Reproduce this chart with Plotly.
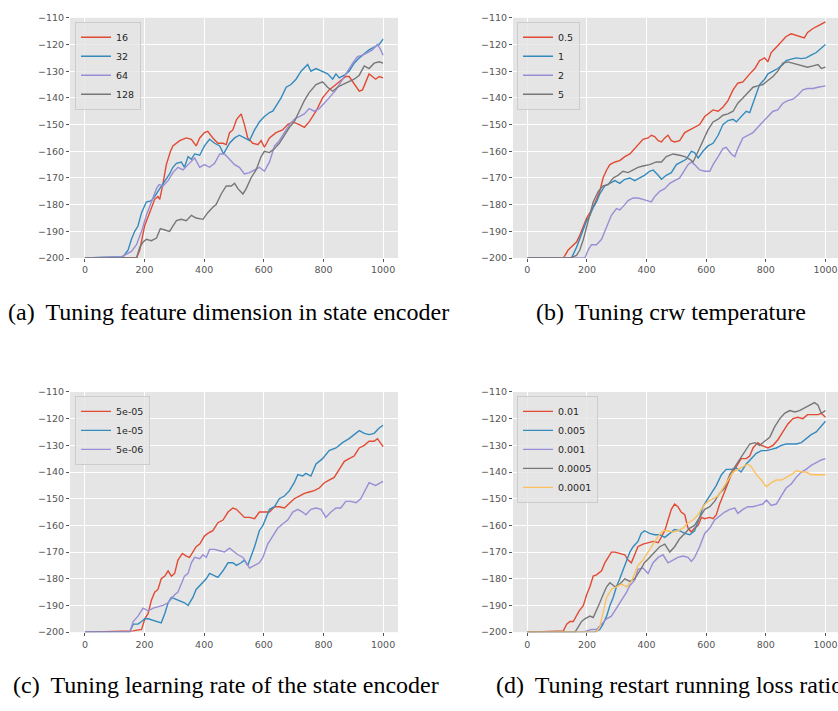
import plotly.graph_objects as go

# ---------------- data ----------------
# (a) feature dimension
a16_x = [0, 173, 184, 200, 217, 234, 245, 251, 262, 273, 287, 295, 318, 340, 357, 373, 385, 401, 412, 429, 446, 463, 474, 485, 496, 509, 524, 535, 546, 563, 580, 591, 602, 619, 641, 663, 680, 697, 719, 736, 752, 775, 797, 819, 842, 864, 875, 886, 903, 920, 931, 942, 953, 964, 975, 987, 1000]
a16_y = [-200, -200, -197, -188, -183, -178, -177, -178, -172, -165, -160, -158, -156, -155, -155.5, -158, -155, -153, -152.5, -155, -157, -157, -157.5, -153, -152, -148, -146, -150, -155, -157, -157.5, -156, -158.5, -155, -153, -152, -150, -149, -150, -151, -149, -145, -140, -137, -135, -133, -132, -132, -135, -137.5, -137, -134, -131, -132, -133, -132, -132.5]
a32_x = [0, 85, 128, 145, 156, 167, 178, 190, 206, 223, 234, 245, 262, 273, 284, 295, 307, 323, 334, 346, 357, 368, 385, 401, 418, 435, 452, 465, 485, 502, 518, 535, 552, 569, 585, 602, 619, 630, 641, 658, 675, 691, 708, 725, 747, 758, 775, 792, 814, 831, 842, 853, 870, 886, 903, 920, 937, 953, 970, 987, 1000]
a32_y = [-200, -199.7, -199.5, -197, -193, -190, -188, -183, -179, -178.5, -177, -175, -172, -170, -168.5, -166, -164.5, -164, -166, -162, -163, -161, -161.5, -158, -155.5, -157, -158, -161, -157, -155, -154, -155, -156, -152, -149, -147, -145.5, -145, -143, -140, -136, -135, -133, -130, -127.5, -130, -129, -130, -131, -133, -131, -132.5, -131.5, -130, -127, -125, -123.5, -122, -121, -120, -118]
a64_x = [0, 123, 156, 173, 190, 206, 223, 240, 249, 262, 279, 295, 312, 329, 346, 368, 385, 401, 418, 435, 452, 468, 485, 502, 518, 535, 552, 569, 585, 602, 619, 636, 652, 669, 686, 702, 719, 736, 752, 769, 786, 803, 819, 842, 864, 881, 898, 914, 931, 948, 964, 981, 992, 1000]
a64_y = [-200, -199.5, -197.5, -195, -190, -184, -179, -174, -172.5, -173, -171, -168, -166, -167, -165, -162.5, -166, -165, -166, -164.5, -161, -161, -163, -165, -166, -168.5, -168, -167, -166, -167.5, -164, -158, -156, -153, -150, -148, -147, -146, -144, -145, -144, -142, -140, -137, -133, -130, -127, -124.5, -124, -123, -122, -120, -122, -124]
a128_x = [0, 173, 184, 195, 206, 223, 240, 253, 268, 284, 295, 307, 323, 340, 357, 373, 396, 412, 429, 440, 457, 474, 491, 502, 513, 530, 541, 557, 574, 591, 602, 619, 636, 652, 669, 686, 702, 719, 736, 752, 775, 797, 814, 831, 847, 864, 886, 903, 920, 937, 953, 970, 987, 1000]
a128_y = [-200, -200, -196, -194, -193, -193.5, -192.5, -189, -189.5, -190, -188, -186, -185.5, -186, -184, -185, -185.5, -183, -181, -180, -176, -173, -173, -172, -174, -176, -174, -170, -167, -162, -160, -160.5, -159, -157, -154, -151, -149, -145, -141, -138, -135, -134, -136, -137.5, -136, -135, -134, -133, -131.5, -128, -129, -127, -126.5, -127]

# (b) crw temperature
b05_x = [0, 121, 137, 154, 165, 174, 188, 199, 210, 221, 232, 243, 254, 266, 277, 294, 310, 327, 344, 360, 377, 388, 405, 416, 427, 439, 450, 461, 472, 483, 494, 511, 528, 545, 561, 578, 595, 612, 623, 640, 656, 673, 690, 706, 723, 746, 763, 779, 796, 807, 818, 835, 852, 868, 885, 902, 913, 929, 940, 958, 975, 1000]
b05_y = [-200, -200, -197, -195, -194, -192, -188, -185, -183, -181, -178, -175, -170, -167, -165, -164, -163.5, -162, -161, -159, -157, -155.5, -155, -154, -154.5, -156, -156.5, -155, -154, -156, -156.5, -156, -153, -152, -151, -150, -147, -145.5, -144.5, -145, -143.5, -141, -137, -134.5, -134, -131, -129, -126, -125, -126.5, -123, -121, -119, -117, -116, -116.5, -117, -117.5, -115.5, -114, -113, -111.5]
b1_x = [0, 148, 165, 176, 188, 199, 210, 221, 232, 243, 260, 277, 294, 310, 327, 344, 360, 377, 393, 410, 422, 439, 450, 466, 483, 500, 516, 533, 550, 561, 573, 589, 606, 623, 640, 656, 673, 690, 701, 717, 734, 746, 763, 779, 796, 807, 824, 840, 857, 868, 885, 902, 919, 935, 952, 969, 1000]
b1_y = [-200, -200, -196, -193, -189, -186, -184, -181, -179, -176, -173, -172, -171, -172, -170.5, -170, -171, -170, -169, -167.5, -167, -169, -170.5, -169, -168, -165, -164, -163, -160, -160.5, -162.5, -160, -158, -157, -154, -150, -148.5, -148, -149, -147, -145, -145.5, -140, -135, -133, -131, -130, -129, -127.5, -126, -125.5, -125, -125.3, -125, -124, -123, -120]
b2_x = [0, 193, 204, 215, 232, 249, 260, 271, 282, 299, 310, 327, 338, 355, 371, 388, 405, 416, 427, 444, 461, 478, 494, 511, 528, 539, 550, 561, 578, 595, 612, 623, 640, 656, 667, 684, 696, 706, 723, 740, 757, 773, 790, 807, 824, 840, 857, 874, 891, 907, 924, 940, 958, 975, 1000]
b2_y = [-200, -200, -197, -195, -195, -193, -190, -187, -184, -181.5, -182, -180, -178.5, -177.5, -177.5, -178, -178.5, -179, -177, -175, -174, -172, -171, -170, -167, -165, -164, -165, -167, -167.5, -167.5, -165, -162, -159, -158.5, -161, -162, -159, -155, -154, -153, -151, -149, -147, -145, -144.5, -142, -141, -140.5, -139, -137, -136.5, -136.5, -136, -135.5]
b5_x = [0, 143, 165, 176, 188, 199, 210, 221, 238, 254, 271, 288, 304, 321, 338, 355, 371, 388, 410, 433, 450, 466, 489, 511, 528, 545, 556, 573, 589, 606, 623, 640, 656, 673, 690, 706, 723, 740, 757, 773, 790, 807, 824, 840, 857, 874, 891, 907, 924, 940, 958, 975, 986, 1000]
b5_y = [-200, -200, -199, -197, -193, -188, -183, -179, -175, -173, -172.5, -170, -169, -167.5, -168, -167, -166, -165.5, -165, -164, -164, -162, -161, -161.5, -162, -163, -164, -160, -156, -152, -149, -148, -146.5, -146, -145, -142, -140, -138, -136, -135.5, -135, -133.5, -132, -130, -127, -126.5, -127, -127.5, -128, -128.5, -128, -127.5, -129, -128.5]

# (c) learning rate
c5e5_x = [0, 162, 190, 201, 212, 223, 234, 245, 256, 268, 279, 290, 301, 312, 327, 340, 351, 362, 373, 385, 401, 412, 429, 446, 463, 480, 496, 508, 518, 535, 552, 569, 585, 602, 619, 636, 652, 669, 686, 702, 719, 736, 752, 769, 786, 803, 819, 836, 853, 870, 886, 903, 920, 937, 953, 970, 981, 992, 1000]
c5e5_y = [-200, -199.5, -199, -195, -193, -188, -185, -184, -180, -179, -177, -179, -178, -173, -170.5, -171.5, -172, -170, -168, -167, -164, -163, -162, -159, -158, -155, -153.5, -154, -155, -157, -157, -157.5, -155, -155, -155, -153, -153, -153.5, -151.5, -150, -149, -148, -147.5, -147, -146, -144, -143, -142, -139, -136, -135, -134, -131, -130, -128.5, -128.5, -127.5, -129, -130.5]
c1e5_x = [0, 150, 162, 178, 190, 201, 212, 229, 245, 256, 268, 279, 290, 301, 318, 334, 346, 362, 373, 390, 407, 418, 435, 446, 463, 480, 496, 508, 524, 535, 546, 557, 569, 585, 597, 608, 619, 636, 652, 669, 686, 702, 714, 730, 741, 758, 775, 797, 819, 842, 864, 886, 903, 920, 937, 953, 970, 987, 1000]
c1e5_y = [-200, -200, -197, -197, -196, -195, -195, -195.5, -196, -196.5, -193, -189, -187, -187.5, -188, -189, -190, -187, -184, -182, -180, -178, -179, -179.5, -177, -174, -174, -175, -174, -173, -175, -172, -168, -162, -160, -157, -154, -153, -150, -149, -147, -144, -141, -141.5, -140.5, -141.5, -137, -135, -132, -131, -129, -127.5, -126, -124.5, -125.5, -126, -125.5, -123.5, -122.5]
c5e6_x = [0, 150, 162, 178, 195, 212, 229, 245, 262, 279, 290, 301, 312, 323, 334, 346, 357, 368, 385, 396, 407, 418, 435, 452, 468, 485, 496, 513, 530, 541, 552, 569, 585, 597, 613, 630, 647, 663, 680, 697, 714, 730, 741, 758, 775, 792, 808, 825, 842, 858, 875, 892, 909, 925, 942, 953, 964, 975, 992, 1000]
c5e6_y = [-200, -200, -196, -194, -191, -192, -191, -190.5, -190, -189, -187.5, -186, -185, -182, -179, -178, -174, -172, -172.5, -171, -172, -169, -169, -169.5, -170, -168.5, -169.5, -171, -172, -174, -176, -175, -174, -172, -167, -164, -161, -159.5, -158, -155, -154, -155, -156, -154, -153.5, -154, -157, -155, -153.5, -153.5, -151, -151, -151.5, -150, -146, -144, -144.5, -145, -144, -143.5]

# (d) restart running loss ratio
d01_x = [0, 121, 132, 143, 154, 165, 174, 188, 199, 210, 221, 232, 249, 260, 271, 282, 294, 310, 327, 338, 349, 360, 371, 388, 405, 422, 439, 450, 461, 472, 483, 494, 505, 516, 528, 539, 550, 561, 573, 584, 595, 612, 623, 634, 645, 656, 667, 684, 701, 717, 734, 746, 757, 773, 785, 796, 807, 824, 840, 857, 874, 891, 907, 924, 940, 958, 975, 986, 1000]
d01_y = [-200, -199.5, -197, -196, -196, -194, -192, -190, -186, -183, -179, -178.5, -177, -174, -172, -170, -170, -170.5, -171, -173, -174, -171, -168, -167, -166.5, -166, -166.5, -164, -162, -158, -154, -152, -153, -155, -156, -161, -162.5, -161, -160, -157, -157.5, -157, -157.5, -156, -152, -149, -146, -141, -138, -135, -135, -134, -131, -129, -130, -130.5, -131, -130, -128, -125, -122, -120, -119.5, -120, -118.5, -118.5, -118.5, -118, -119.5]
d005_x = [0, 227, 243, 254, 266, 277, 288, 299, 310, 321, 333, 344, 355, 371, 382, 393, 410, 427, 444, 461, 478, 494, 511, 528, 545, 561, 578, 589, 600, 617, 634, 651, 667, 684, 701, 717, 734, 751, 768, 785, 802, 818, 835, 852, 868, 885, 902, 919, 935, 952, 969, 986, 1000]
d005_y = [-200, -200, -199, -197, -194, -190, -187, -183, -180, -177, -173, -170, -168, -166, -163, -162, -163, -163.5, -163.5, -164.5, -163, -161.5, -162, -163, -163.5, -162, -157, -153, -151, -148, -145, -141, -139, -139, -138.5, -140, -137, -135, -133, -132, -132, -131.5, -131, -130, -129.5, -129.5, -129.5, -129, -127.5, -126, -125, -123, -121]
d001_x = [0, 188, 199, 215, 232, 249, 266, 282, 299, 310, 321, 333, 344, 360, 371, 388, 405, 422, 439, 455, 472, 489, 505, 522, 539, 550, 561, 578, 595, 612, 628, 645, 662, 679, 696, 706, 723, 740, 757, 773, 790, 802, 818, 835, 852, 868, 885, 902, 919, 935, 952, 969, 986, 1000]
d001_y = [-200, -200, -199.5, -199, -199, -197, -195, -194, -191, -189, -187, -185, -182.5, -180.5, -176.5, -176, -178, -174, -172, -171, -174, -173, -172, -171.5, -172, -173.5, -172, -168, -163, -161, -158, -156.5, -155, -154, -153.5, -155.5, -154, -153, -153, -152.5, -152, -150.5, -152.5, -152, -149, -146, -144.5, -142, -140, -139, -137.5, -136.5, -135.5, -135]
d0005_x = [0, 160, 171, 182, 193, 210, 221, 232, 243, 254, 266, 277, 294, 310, 327, 344, 360, 377, 393, 410, 427, 444, 461, 478, 494, 511, 528, 545, 561, 578, 595, 612, 628, 645, 662, 679, 696, 712, 729, 746, 763, 779, 796, 813, 830, 847, 863, 880, 897, 913, 930, 946, 963, 975, 986, 1000]
d0005_y = [-200, -200, -198, -196, -195, -194, -194.5, -192, -189, -186, -183, -181.5, -183, -182, -180, -181, -180, -177, -174, -172, -170, -168, -167, -170, -168, -165, -163, -161, -160, -157, -154, -153, -151, -148, -146, -141, -138, -135, -132, -129.5, -129, -130, -128.5, -127, -123, -120, -118, -117, -117.5, -117, -116, -115, -114, -115, -118, -117]
d0001_x = [0, 232, 243, 254, 266, 282, 299, 316, 333, 349, 360, 371, 388, 405, 422, 439, 455, 472, 489, 505, 522, 539, 556, 573, 589, 606, 623, 640, 656, 673, 690, 706, 723, 740, 751, 768, 785, 802, 818, 835, 852, 868, 885, 902, 919, 935, 952, 969, 986, 1000]
d0001_y = [-200, -200, -198, -193, -187, -184, -183, -182, -183, -181, -178, -175, -173, -170, -167, -164, -162, -162, -162.5, -162, -161, -159, -158, -156, -153, -151, -150, -149, -146, -143, -140, -139, -138, -137, -138, -141, -143, -145.5, -144, -143, -143, -142, -141, -139.5, -140, -140, -141, -141, -141, -141]

labels_a = ["16", "32", "64", "128"]
labels_b = ["0.5", "1", "2", "5"]
labels_c = ["5e-05", "1e-05", "5e-06"]
labels_d = ["0.01", "0.005", "0.001", "0.0005", "0.0001"]

captions = ["(a) \u2009Tuning feature dimension in state encoder",
            "(b) \u2009Tuning crw temperature",
            "(c) \u2009Tuning learning rate of the state encoder",
            "(d) \u2009Tuning restart running loss ratio"]

x_ticks = [0, 200, 400, 600, 800, 1000]
y_ticks = [-200, -190, -180, -170, -160, -150, -140, -130, -120, -110]

COLORS = ["#E24A33", "#348ABD", "#988ED5", "#777777", "#FBC15E"]

W, H = 838, 711

panels = [
    dict(labels=labels_a, series=[(a16_x, a16_y), (a32_x, a32_y), (a64_x, a64_y), (a128_x, a128_y)]),
    dict(labels=labels_b, series=[(b05_x, b05_y), (b1_x, b1_y), (b2_x, b2_y), (b5_x, b5_y)]),
    dict(labels=labels_c, series=[(c5e5_x, c5e5_y), (c1e5_x, c1e5_y), (c5e6_x, c5e6_y)]),
    dict(labels=labels_d, series=[(d01_x, d01_y), (d005_x, d005_y), (d001_x, d001_y),
                                  (d0005_x, d0005_y), (d0001_x, d0001_y)]),
]

# pixel geometry of each panel: (left, right, top, bottom), x-range
geom = [
    ((70, 398, 12, 256), [-50, 1050]),
    ((513, 838, 12, 256), [-48, 1042]),
    ((70, 398, 392, 636), [-50, 1050]),
    ((513, 838, 392, 636), [-48, 1042]),
]
legend_pos = [(75, 16), (517, 16), (75, 396), (517, 396)]
caption_pos = [(6, 311), (534, 311), (11, 690), (494, 690)]

fig = go.Figure()
layout = dict(
    width=W, height=H, margin=dict(l=0, r=0, t=0, b=0),
    paper_bgcolor="white", plot_bgcolor="#E5E5E5", showlegend=True,
    annotations=[],
)

for i, p in enumerate(panels):
    sfx = "" if i == 0 else str(i + 1)
    leg = "legend" if i == 0 else "legend" + str(i + 1)
    for j, (xs, ys) in enumerate(p["series"]):
        assert len(xs) == len(ys), (i, j, len(xs), len(ys))
        fig.add_trace(go.Scatter(
            x=xs, y=ys, mode="lines", name=p["labels"][j],
            line=dict(color=COLORS[j], width=1.4),
            xaxis="x" + sfx, yaxis="y" + sfx, legend=leg,
        ))
    (l, r, t, b), xr = geom[i]
    axcommon = dict(showgrid=True, gridcolor="white", gridwidth=1, zeroline=False,
                    showline=False, ticks="outside", ticklen=3, tickwidth=1,
                    tickcolor="#555555",
                    tickfont=dict(family="DejaVu Sans", size=9.5, color="#555555"))
    layout["xaxis" + sfx] = dict(domain=[l / W, r / W], range=xr, tickvals=x_ticks,
                                 anchor="y" + sfx, **axcommon)
    layout["yaxis" + sfx] = dict(domain=[1 - b / H, 1 - t / H], range=[-200, -110],
                                 tickvals=y_ticks, anchor="x" + sfx, **axcommon)
    lx, ly = legend_pos[i]
    layout[leg] = dict(x=lx / W, y=1 - ly / H, xanchor="left", yanchor="top",
                       xref="paper", yref="paper",
                       bgcolor="rgba(229,229,229,0.8)", bordercolor="#CCCCCC",
                       borderwidth=1, itemwidth=30, tracegroupgap=0,
                       font=dict(family="DejaVu Sans", size=9.5, color="#262626"))
    cx, cy = caption_pos[i]
    layout["annotations"].append(dict(
        text=captions[i], xref="paper", yref="paper", x=cx / W, y=1 - cy / H,
        xanchor="left", yanchor="middle", showarrow=False,
        font=dict(family="Liberation Serif, Times New Roman, serif", size=24, color="black"),
    ))

fig.update_layout(**layout)
fig.write_html("out.html", config={"displayModeBar": False},
               post_script="document.body.style.margin='0';document.body.style.overflow='hidden';")
